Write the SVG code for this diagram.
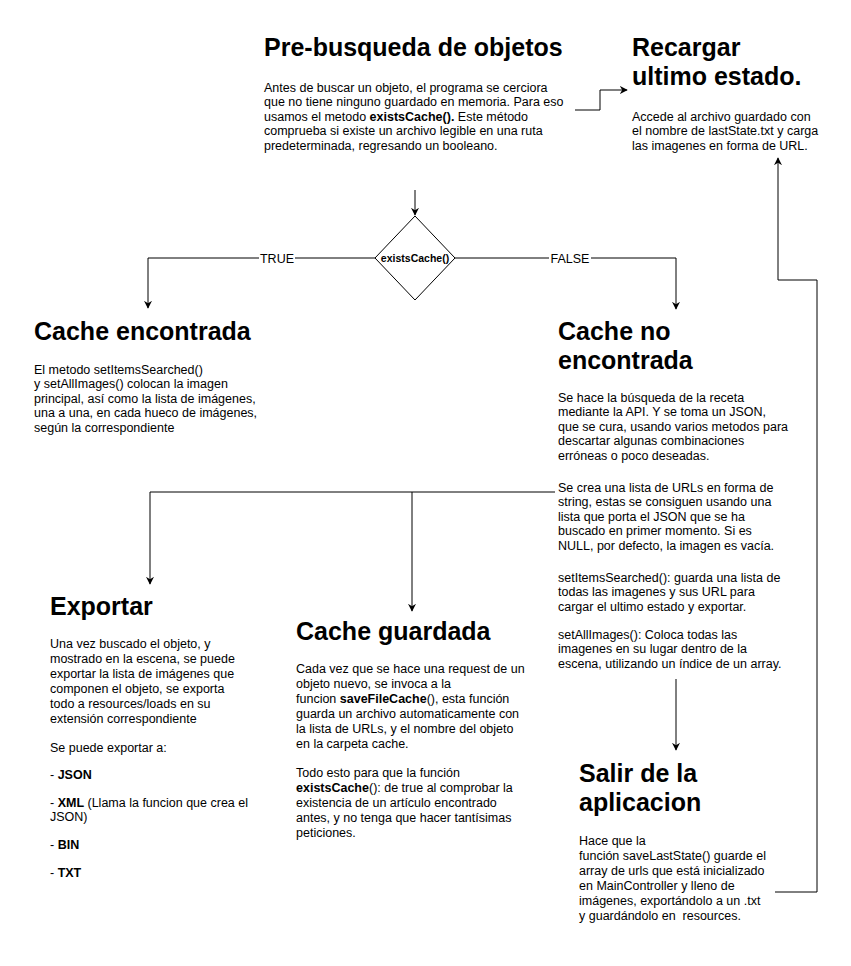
<svg xmlns="http://www.w3.org/2000/svg" width="851" height="966" viewBox="0 0 851 966">
<style>
text{font-family:"Liberation Sans",Arial,sans-serif;fill:#000}
.t{font-size:25px;font-weight:bold}
.b{font-size:12.5px}
.bd{font-weight:bold}
.lbl{font-size:12.5px;text-anchor:middle}
.c{fill:none;stroke:#000;stroke-width:1}
</style>
<defs>
<marker id="arr" viewBox="0 0 10 10" refX="9" refY="5" markerWidth="8" markerHeight="8" markerUnits="userSpaceOnUse" orient="auto">
<path d="M0,0 L10,5 L0,10 L3,5 Z" fill="#000"/>
</marker>
</defs>
<rect width="851" height="966" fill="#fff"/>
<g id="connectors">
<path class="c" d="M575,110 H600 V90 H627" marker-end="url(#arr)"/>
<path class="c" d="M415,190 V215" marker-end="url(#arr)"/>
<path class="c" d="M375,258 H148 V308" marker-end="url(#arr)"/>
<path class="c" d="M455,258 H676 V309" marker-end="url(#arr)"/>
<path class="c" d="M555,492 H150 V584" marker-end="url(#arr)"/>
<path class="c" d="M412,492 V611" marker-end="url(#arr)"/>
<path class="c" d="M676,679 V750" marker-end="url(#arr)"/>
<path class="c" d="M775,892 H817 V280 H778 V158" marker-end="url(#arr)"/>
<rect x="259" y="250" width="36" height="16" fill="#fff"/>
<text class="lbl" x="277" y="262.5">TRUE</text>
<rect x="549" y="250" width="42" height="16" fill="#fff"/>
<text class="lbl" x="570" y="262.5">FALSE</text>
</g>
<g id="prebusqueda">
<text class="t" x="264" y="56">Pre-busqueda de objetos</text>
<text class="b" x="264" y="91.5">Antes de buscar un objeto, el programa se cerciora</text>
<text class="b" x="264" y="106.1">que no tiene ninguno guardado en memoria. Para eso</text>
<text class="b" x="264" y="120.7">usamos el metodo <tspan class="bd">existsCache().</tspan> Este método</text>
<text class="b" x="264" y="135.3">comprueba si existe un archivo legible en una ruta</text>
<text class="b" x="264" y="149.9">predeterminada, regresando un booleano.</text>
</g>
<g id="recargar">
<text class="t" x="632" y="56">Recargar</text>
<text class="t" x="632" y="85">ultimo estado.</text>
<text class="b" x="632" y="120.5">Accede al archivo guardado con</text>
<text class="b" x="632" y="135">el nombre de lastState.txt y carga</text>
<text class="b" x="632" y="149.5">las imagenes en forma de URL.</text>
</g>
<g id="decision">
<polygon points="415,216 455,258 415,300 375,258" fill="#fff" stroke="#000" stroke-width="1"/>
<text x="415" y="261.5" font-size="10.5" font-weight="bold" text-anchor="middle">existsCache()</text>
</g>
<g id="cache-encontrada">
<text class="t" x="34" y="340">Cache encontrada</text>
<text class="b" x="34" y="373.5">El metodo setItemsSearched()</text>
<text class="b" x="34" y="388.1">y setAllImages() colocan la imagen</text>
<text class="b" x="34" y="402.7">principal, así como la lista de imágenes,</text>
<text class="b" x="34" y="417.3">una a una, en cada hueco de imágenes,</text>
<text class="b" x="34" y="431.9">según la correspondiente</text>
</g>
<g id="cache-no-encontrada">
<text class="t" x="558" y="340">Cache no</text>
<text class="t" x="558" y="369">encontrada</text>
<text class="b" x="558" y="401.5">Se hace la búsqueda de la receta</text>
<text class="b" x="558" y="416.1">mediante la API. Y se toma un JSON,</text>
<text class="b" x="558" y="430.7">que se cura, usando varios metodos para</text>
<text class="b" x="558" y="445.3">descartar algunas combinaciones</text>
<text class="b" x="558" y="459.9">erróneas o poco deseadas.</text>
<text class="b" x="558" y="491.5">Se crea una lista de URLs en forma de</text>
<text class="b" x="558" y="506.1">string, estas se consiguen usando una</text>
<text class="b" x="558" y="520.7">lista que porta el JSON que se ha</text>
<text class="b" x="558" y="535.3">buscado en primer momento. Si es</text>
<text class="b" x="558" y="549.9">NULL, por defecto, la imagen es vacía.</text>
<text class="b" x="558" y="581.5">setItemsSearched(): guarda una lista de</text>
<text class="b" x="558" y="596.1">todas las imagenes y sus URL para</text>
<text class="b" x="558" y="610.7">cargar el ultimo estado y exportar.</text>
<text class="b" x="558" y="638.5">setAllImages(): Coloca todas las</text>
<text class="b" x="558" y="653.1">imagenes en su lugar dentro de la</text>
<text class="b" x="558" y="667.7">escena, utilizando un índice de un array.</text>
</g>
<g id="exportar">
<text class="t" x="50" y="615">Exportar</text>
<text class="b" x="50" y="647.5">Una vez buscado el objeto, y</text>
<text class="b" x="50" y="662.5">mostrado en la escena, se puede</text>
<text class="b" x="50" y="677.5">exportar la lista de imágenes que</text>
<text class="b" x="50" y="692.5">componen el objeto, se exporta</text>
<text class="b" x="50" y="707.5">todo a resources/loads en su</text>
<text class="b" x="50" y="722.5">extensión correspondiente</text>
<text class="b" x="50" y="751.5">Se puede exportar a:</text>
<text class="b" x="50" y="778.5">- <tspan class="bd">JSON</tspan></text>
<text class="b" x="50" y="806.5">- <tspan class="bd">XML</tspan> (Llama la funcion que crea el</text>
<text class="b" x="50" y="821">JSON)</text>
<text class="b" x="50" y="848.5">- <tspan class="bd">BIN</tspan></text>
<text class="b" x="50" y="876.5">- <tspan class="bd">TXT</tspan></text>
</g>
<g id="cache-guardada">
<text class="t" x="296" y="640">Cache guardada</text>
<text class="b" x="296" y="672.5">Cada vez que se hace una request de un</text>
<text class="b" x="296" y="687.5">objeto nuevo, se invoca a la</text>
<text class="b" x="296" y="702.5">funcion <tspan class="bd">saveFileCache</tspan>(), esta función</text>
<text class="b" x="296" y="717.5">guarda un archivo automaticamente con</text>
<text class="b" x="296" y="732.5">la lista de URLs, y el nombre del objeto</text>
<text class="b" x="296" y="748">en la carpeta cache.</text>
<text class="b" x="296" y="776.5">Todo esto para que la función</text>
<text class="b" x="296" y="791.5"><tspan class="bd">existsCache</tspan>(): de true al comprobar la</text>
<text class="b" x="296" y="806.5">existencia de un artículo encontrado</text>
<text class="b" x="296" y="821.5">antes, y no tenga que hacer tantísimas</text>
<text class="b" x="296" y="836.5">peticiones.</text>
</g>
<g id="salir">
<text class="t" x="579" y="782">Salir de la</text>
<text class="t" x="579" y="811">aplicacion</text>
<text class="b" x="579" y="844.5">Hace que la</text>
<text class="b" x="579" y="859.5">función saveLastState() guarde el</text>
<text class="b" x="579" y="874.5">array de urls que está inicializado</text>
<text class="b" x="579" y="889.5">en MainController y lleno de</text>
<text class="b" x="579" y="904.5">imágenes, exportándolo a un .txt</text>
<text class="b" x="579" y="920">y guardándolo en&#160; resources.</text>
</g>
</svg>
